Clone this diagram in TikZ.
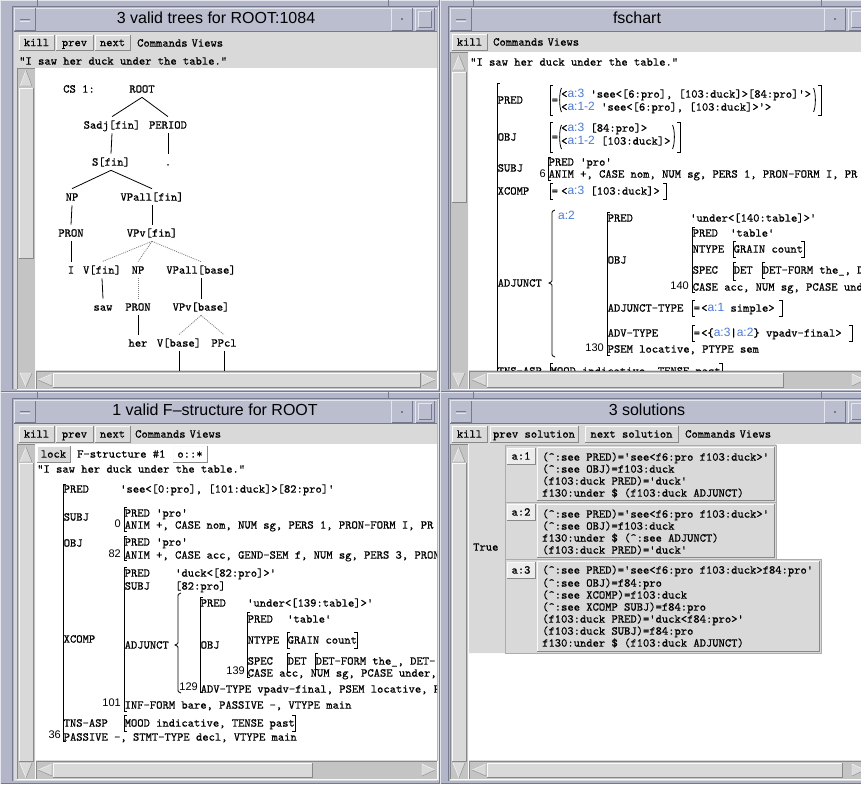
\documentclass[tikz,border=0pt]{standalone}
\usepackage{fontspec}
\newfontfamily\uisans{Liberation Sans}
\setmonofont{lmmono10-regular.otf}[FakeBold=0.6]

\definecolor{wmframe}{RGB}{178,182,200}
\definecolor{wmtitle}{RGB}{186,190,207}
\definecolor{wmlight}{RGB}{228,230,238}
\definecolor{wmdark}{RGB}{118,122,142}
\definecolor{tkbg}{RGB}{217,217,217}
\definecolor{tklabel}{RGB}{236,236,236}
\definecolor{tktrough}{RGB}{196,196,196}
\definecolor{tklight}{RGB}{250,250,250}
\definecolor{tkdark}{RGB}{136,136,136}
\definecolor{ctxblue}{RGB}{72,122,228}

\tikzset{
  mono/.style={anchor=west, inner sep=0pt, text height=7.3pt, text depth=0pt,
    font=\ttfamily\fontsize{12}{12}\selectfont},
  numlab/.style={anchor=east, inner sep=0pt, text height=7.6pt, text depth=0pt,
    font=\uisans\fontsize{11}{11}\selectfont},
  treelab/.style={mono, anchor=center, inner ysep=4.5pt},
  treeedge/.style={line width=0.8pt},
  choiceedge/.style={line width=0.8pt, gray, dash pattern=on 1pt off 1pt},
  brk/.style={line width=0.8pt},
  titletext/.style={inner sep=0pt, font=\uisans\fontsize{16}{16}\selectfont},
}

\newcounter{tn}
% text in the typewriter face, placed by its left end and cap centre
\newcommand\Txt[4][]{\stepcounter{tn}\node[mono,#1] (t\arabic{tn}) at (#2,#3) {#4};}
% f-structure index numbers, placed by their right end
\newcommand\Num[3]{\stepcounter{tn}\node[numlab] (t\arabic{tn}) at (#1,#2) {#3};}
% blue context labels
\newcommand\Ctx[1]{{\uisans\fontsize{12}{12}\selectfont\color{ctxblue}#1}}

% Tk widgets
\newcommand\TkRaised[5][tkbg]{%
  \fill[#1] (#2,#3) rectangle (#4,#5);
  \draw[tklight] (#2,#5) -- (#2,#3) -- (#4,#3);
  \draw[tkdark] (#2,#5) -- (#4,#5) -- (#4,#3);}
\newcommand\TkSunken[4]{%
  \fill[tktrough] (#1,#2) rectangle (#3,#4);
  \draw[tkdark] (#1,#4) -- (#1,#2) -- (#3,#2);
  \draw[tklight] (#1,#4) -- (#3,#4) -- (#3,#2);}
\newcommand\TkButton[5]{\TkRaised{#1}{#2}{#3}{#4}%
  \stepcounter{tn}\node[mono,anchor=center] (t\arabic{tn}) at ({(#1+#3)/2},{(#2+#4)/2}) {#5};}
\newcommand\ArrUp[3]{% centre x, top, bottom
  \fill[tkbg] (#1,#2) -- (#1+6,#3) -- (#1-6,#3) -- cycle;
  \draw[tklight] (#1-6,#3) -- (#1,#2);
  \draw[tkdark] (#1,#2) -- (#1+6,#3) -- (#1-6,#3);}
\newcommand\ArrDown[3]{% centre x, top, bottom
  \fill[tkbg] (#1-6,#2) -- (#1+6,#2) -- (#1,#3) -- cycle;
  \draw[tklight] (#1,#3) -- (#1-6,#2) -- (#1+6,#2);
  \draw[tkdark] (#1,#3) -- (#1+6,#2);}
\newcommand\ArrLeft[3]{% centre y, left, right
  \fill[tkbg] (#2,#1) -- (#3,#1-6) -- (#3,#1+6) -- cycle;
  \draw[tklight] (#2,#1) -- (#3,#1-6);
  \draw[tkdark] (#3,#1-6) -- (#3,#1+6) -- (#2,#1);}
\newcommand\ArrRight[3]{% centre y, left, right
  \fill[tkbg] (#2,#1-6) -- (#3,#1) -- (#2,#1+6) -- cycle;
  \draw[tklight] (#2,#1+6) -- (#2,#1-6) -- (#3,#1);
  \draw[tkdark] (#3,#1) -- (#2,#1+6);}

% window manager pieces
\newcommand\WmRaised[4]{%
  \fill[wmtitle] (#1,#2) rectangle (#3,#4);
  \draw[wmlight] (#1+0.5,#4-0.5) -- (#1+0.5,#2+0.5) -- (#3-0.5,#2+0.5);
  \draw[wmdark] (#1+0.5,#4-0.5) -- (#3-0.5,#4-0.5) -- (#3-0.5,#2+0.5);}
\newcommand\XWindow[9]{%
  % #1,#2 / #3,#4 outer corners, #5/#6 inner left/right, #7 title centre, #8 title, #9 dot button
  \fill[wmframe] (#1,#2) rectangle (#3,#4);
  \draw[wmlight] (#1+0.5,#4) -- (#1+0.5,#2+0.5) -- (#3,#2+0.5);
  \draw[wmdark] (#1+0.5,#4-0.5) -- (#3-0.5,#4-0.5) -- (#3-0.5,#2+0.5);
  \draw[wmdark] (#5-1.5,#4-3) -- (#5-1.5,#2+6.5) -- (#6+1.5,#2+6.5);
  \draw[wmlight] (#6+1.5,#2+6.5) -- (#6+1.5,#4-3);
  \draw[wmdark] (#5+23,#2) -- (#5+23,#2+6);
  \draw[wmdark] (#9-3,#2) -- (#9-3,#2+6);
  \fill[wmtitle] (#5,#2+8) rectangle (#6,#2+31);
  \draw[wmlight] (#5,#2+8.5) -- (#6,#2+8.5);
  \draw[wmdark] (#5,#2+31) -- (#6,#2+31);
  \WmRaised{#5}{#2+8}{#5+22}{#2+31}
  \draw[wmdark] (#5+6,#2+19.5) -- (#5+16,#2+19.5);
  \draw[wmlight] (#5+6,#2+21) -- (#5+16,#2+21);
  \WmRaised{#9}{#2+8}{#9+22}{#2+31}
  \fill[wmdark] (#9+10,#2+18.5) rectangle (#9+12,#2+20.5);
  \WmRaised{#9+24}{#2+8}{#9+44}{#2+31}
  \WmRaised{#9+27}{#2+11}{#9+41}{#2+28}
  \stepcounter{tn}\node[titletext] (t\arabic{tn}) at (#7,#2+18) {#8};
  \fill[tkbg] (#5,#2+32) rectangle (#6,#4-3);}

% brackets of attribute-value matrices
\newcommand\Lbr[3]{\draw[brk] (#1+3,#2) -- (#1,#2) -- (#1,#3) -- (#1+3,#3);}
\newcommand\Rbr[3]{\draw[brk] (#1-3,#2) -- (#1,#2) -- (#1,#3) -- (#1-3,#3);}
\newcommand\LParen[3]{\draw[brk] (#1+2.5,#2) .. controls (#1,#2+5) and (#1,#3-5) .. (#1+2.5,#3);}
\newcommand\RParen[3]{\draw[brk] (#1-2.5,#2) .. controls (#1,#2+5) and (#1,#3-5) .. (#1-2.5,#3);}
\newcommand\CurlyBr[4]{% x, top, middle, bottom
  \draw[brk] (#1+4,#2) .. controls (#1+1,#2+1) .. (#1+1,#2+5) -- (#1+1,#3-5)
    .. controls (#1+1,#3-1) .. (#1-2,#3) .. controls (#1+1,#3+1) .. (#1+1,#3+5)
    -- (#1+1,#4-5) .. controls (#1+1,#4-1) .. (#1+4,#4);}

\begin{document}
\begin{tikzpicture}[x=1pt,y=-1pt]
\useasboundingbox (0,0) rectangle (861,784);
\clip (0,0) rectangle (861,784);
\fill[wmframe] (0,0) rectangle (861,784);

% ================= tree window =================
\XWindow{0}{0}{440}{392}{14}{437}{216}{3 valid trees for ROOT:1084}{391}
\TkButton{19}{35}{54}{50}{kill}
\TkButton{56}{35}{93}{50}{prev}
\TkButton{95}{35}{130}{50}{next}
\Txt{137}{43}{Commands\hspace{4pt}Views}
\Txt{19}{61}{"I saw her duck under the table."}
\fill[white] (36,68) rectangle (437,370);
\TkSunken{17}{68}{35}{389}
\ArrUp{26}{70}{86}
\TkRaised{19}{88}{33}{258}
\ArrDown{26}{373}{387}
\TkSunken{36}{371}{437}{389}
\ArrLeft{380}{38}{52}
\TkRaised{53}{373}{420}{387}
\ArrRight{380}{422}{435}

\begin{scope}
\clip (36,68) rectangle (437,370);
\node[treelab] (cs) at (79,89) {CS 1:};
\node[treelab] (root) at (142,89) {ROOT};
\node[treelab] (sadj) at (112,125) {Sadj[fin]};
\node[treelab] (period) at (168,125) {PERIOD};
\node[treelab] (sfin) at (111,162) {S[fin]};
\node[treelab] (stop) at (168,162) {.};
\node[treelab] (np1) at (72,197) {NP};
\node[treelab] (vpallfin) at (152,197) {VPall[fin]};
\node[treelab] (pron1) at (71,233) {PRON};
\node[treelab] (vpvfin) at (152,233) {VPv[fin]};
\node[treelab] (wi) at (71,270) {I};
\node[treelab] (vfin) at (102,270) {V[fin]};
\node[treelab] (np2) at (138,270) {NP};
\node[treelab] (vpallbase) at (201,270) {VPall[base]};
\node[treelab] (saw) at (103,307) {saw};
\node[treelab] (pron2) at (138,307) {PRON};
\node[treelab] (vpvbase) at (201,307) {VPv[base]};
\node[treelab] (her) at (138,343) {her};
\node[treelab] (vbase) at (179,343) {V[base]};
\node[treelab] (ppcl) at (224,343) {PPcl};
\coordinate (vbasedown) at (179,375);
\coordinate (ppcldown) at (224,375);

\draw[treeedge] (root.south) -- (sadj.north);
\draw[treeedge] (root.south) -- (period.north);
\draw[treeedge] (sadj.south) -- (sfin.north);
\draw[treeedge] (period.south) -- (stop.north);
\draw[treeedge] (sfin.south) -- (np1.north);
\draw[treeedge] (sfin.south) -- (vpallfin.north);
\draw[treeedge] (np1.south) -- (pron1.north);
\draw[treeedge] (vpallfin.south) -- (vpvfin.north);
\draw[treeedge] (pron1.south) -- (wi.north);
\draw[choiceedge] (vpvfin.south) -- (vfin.north);
\draw[choiceedge] (vpvfin.south) -- (np2.north);
\draw[choiceedge] (vpvfin.south) -- (vpallbase.north);
\draw[treeedge] (vfin.south) -- (saw.north);
\draw[choiceedge] (np2.south) -- (pron2.north);
\draw[treeedge] (vpallbase.south) -- (vpvbase.north);
\draw[treeedge] (pron2.south) -- (her.north);
\draw[choiceedge] (vpvbase.south) -- (vbase.north);
\draw[choiceedge] (vpvbase.south) -- (ppcl.north);
\draw[treeedge] (vbase.south) -- (vbasedown);
\draw[treeedge] (ppcl.south) -- (ppcldown);
\end{scope}

% ================= fschart window =================
\XWindow{440}{0}{880}{392}{450}{880}{637}{fschart}{824}
\TkButton{452}{34}{487}{50}{kill}
\Txt{493}{42}{Commands\hspace{4pt}Views}
\fill[white] (469,52) rectangle (880,370);
\TkSunken{450}{52}{468}{389}
\ArrUp{459}{55}{70}
\TkRaised{452}{72}{466}{202}
\ArrDown{459}{373}{387}
\TkSunken{469}{371}{880}{389}
\ArrLeft{380}{472}{486}
\TkRaised{487}{373}{783}{387}
\ArrRight{380}{852}{865}

\begin{scope}
\clip (469,52) rectangle (880,370);
\Txt{470}{62}{"I saw her duck under the table."}
\draw[brk] (500,83) -- (497,83) -- (497,380);
% PRED
\Txt{497.5}{100}{PRED}
\Lbr{550}{85}{115}
\Txt{551.5}{100}{=}
\LParen{559}{88}{112}
\Txt{561}{94}{<\Ctx{a:3} 'see<[6:pro], [103:duck]>[84:pro]'>}
\Txt{561}{107}{<\Ctx{a:1-2} 'see<[6:pro], [103:duck]>'>}
\RParen{816}{88}{112}
\Rbr{821}{85}{115}
% OBJ
\Txt{497.5}{137}{OBJ}
\Lbr{550}{122}{152}
\Txt{551.5}{137}{=}
\LParen{559}{125}{149}
\Txt{561}{128}{<\Ctx{a:3} [84:pro]>}
\Txt{561}{141}{<\Ctx{a:1-2} [103:duck]>}
\RParen{675}{125}{149}
\Rbr{680}{122}{152}
% SUBJ
\Txt{497.5}{168}{SUBJ}
\Num{546}{174}{6}
\Lbr{548}{157}{180}
\Txt{548.5}{162}{PRED 'pro'}
\Txt{548.5}{174}{ANIM +, CASE nom, NUM sg, PERS 1, PRON-FORM I, PR}
% XCOMP
\Txt{497.5}{191}{XCOMP}
\Lbr{550}{183}{199}
\Txt{551.5}{191}{=}
\Txt{561}{191}{<\Ctx{a:3} [103:duck]>}
\Rbr{666}{183}{199}
% ADJUNCT
\Txt{497.5}{283}{ADJUNCT}
\CurlyBr{551}{210}{283}{357}
\stepcounter{tn}\node[mono,font=\uisans\fontsize{12}{12}\selectfont,text=ctxblue] (t\arabic{tn}) at (558,216) {a:2};
\Lbr{607}{212}{355}
\Txt{607.5}{218}{PRED}
\Txt{690}{218}{'under<[140:table]>'}
\Lbr{692}{227}{292}
\Txt{692.5}{233}{PRED}
\Txt{730}{233}{'table'}
\Txt{692.5}{249}{NTYPE}
\Lbr{733}{241}{257}
\Txt{733.5}{249}{GRAIN count}
\Rbr{804}{241}{257}
\Txt{607.5}{260}{OBJ}
\Txt{692.5}{270}{SPEC}
\Lbr{733}{262}{280}
\Txt{733.5}{270}{DET}
\Lbr{762}{262}{278}
\Txt{762.5}{270}{DET-FORM the\_, D}
\Num{689}{286}{140}
\Txt{692.5}{287}{CASE acc, NUM sg, PCASE und}
\Txt{607.5}{308}{ADJUNCT-TYPE}
\Lbr{692}{300}{316}
\Txt{693.5}{308}{=}
\Txt{701}{308}{<\Ctx{a:1} simple>}
\Rbr{782}{300}{316}
\Txt{607.5}{333}{ADV-TYPE}
\Lbr{692}{325}{341}
\Txt{693.5}{333}{=}
\Txt{701}{333}{<\{\Ctx{a:3}|\Ctx{a:2}\} vpadv-final>}
\Rbr{852}{325}{341}
\Num{604}{348}{130}
\Txt{607.5}{349}{PSEM locative, PTYPE sem}
\Txt{497.5}{371}{TNS-ASP}
\Lbr{550}{363}{379}
\Txt{550.5}{371}{MOOD indicative, TENSE past}
\Rbr{722}{363}{379}
\end{scope}

% ================= f-structure window =================
\XWindow{0}{392}{440}{784}{14}{437}{215}{1 valid F\textendash structure for ROOT}{391}
\TkButton{19}{426}{54}{442}{kill}
\TkButton{56}{426}{93}{442}{prev}
\TkButton{95}{426}{130}{442}{next}
\Txt{135}{434}{Commands\hspace{4pt}Views}
\fill[white] (36,444) rectangle (437,760);
\TkSunken{17}{444}{35}{779}
\ArrUp{26}{447}{462}
\TkRaised{19}{463}{33}{761}
\ArrDown{26}{763}{778}
\TkSunken{36}{761}{437}{779}
\ArrLeft{770}{38}{52}
\TkRaised{53}{763}{312}{777}
\ArrRight{770}{422}{435}

\begin{scope}
\clip (36,444) rectangle (437,760);
\TkButton{37}{446}{70}{462}{lock}
\Txt{77}{454}{F-structure \#1}
\TkRaised[white]{173}{446}{207}{462}
\Txt[anchor=center]{190}{454}{o::*}
\Txt{37}{469}{"I saw her duck under the table."}
\Lbr{63}{484}{741}
\Txt{63.5}{489}{PRED}
\Txt{120}{489}{'see<[0:pro], [101:duck]>[82:pro]'}
\Txt{63.5}{517}{SUBJ}
\Lbr{124}{507}{531}
\Txt{124.5}{513}{PRED 'pro'}
\Num{121}{524}{0}
\Txt{124.5}{525}{ANIM +, CASE nom, NUM sg, PERS 1, PRON-FORM I, PR}
\Txt{63.5}{543}{OBJ}
\Lbr{124}{536}{560}
\Txt{124.5}{542}{PRED 'pro'}
\Num{121}{554}{82}
\Txt{124.5}{555}{ANIM +, CASE acc, GEND-SEM f, NUM sg, PERS 3, PRON}
\Lbr{124}{567}{711}
\Txt{124.5}{573}{PRED}
\Txt{175}{573}{'duck<[82:pro]>'}
\Txt{124.5}{586}{SUBJ}
\Txt{175}{586}{[82:pro]}
\Txt{63.5}{639}{XCOMP}
\Txt{124.5}{645}{ADJUNCT}
\CurlyBr{177}{593}{645}{693}
\Lbr{200}{597}{692}
\Txt{200.5}{603}{PRED}
\Txt{247}{603}{'under<[139:table]>'}
\Lbr{247}{612}{677}
\Txt{247.5}{619}{PRED}
\Txt{287}{619}{'table'}
\Txt{247.5}{640}{NTYPE}
\Lbr{287}{632}{648}
\Txt{287.5}{640}{GRAIN count}
\Rbr{357}{632}{648}
\Txt{200.5}{645}{OBJ}
\Txt{247.5}{661}{SPEC}
\Lbr{287}{653}{672}
\Txt{287.5}{661}{DET}
\Lbr{315}{653}{669}
\Txt{315.5}{661}{DET-FORM the\_, DET-}
\Num{245}{671}{139}
\Txt{247.5}{673}{CASE acc, NUM sg, PCASE under, P}
\Num{198}{687}{129}
\Txt{200.5}{689}{ADV-TYPE vpadv-final, PSEM locative, P}
\Num{121}{703}{101}
\Txt{124.5}{705}{INF-FORM bare, PASSIVE -, VTYPE main}
\Txt{63.5}{723}{TNS-ASP}
\Lbr{124}{715}{731}
\Txt{124.5}{723}{MOOD indicative, TENSE past}
\Rbr{295}{715}{731}
\Num{61}{735}{36}
\Txt{63.5}{737}{PASSIVE -, STMT-TYPE decl, VTYPE main}
\end{scope}

% ================= solutions window =================
\XWindow{440}{392}{880}{784}{450}{880}{647}{3 solutions}{824}
\TkButton{452}{426}{487}{442}{kill}
\TkButton{490}{426}{578}{442}{prev solution}
\TkButton{585}{426}{678}{442}{next solution}
\Txt{685}{434}{Commands\hspace{4pt}Views}
\fill[white] (469,444) rectangle (880,760);
\TkSunken{450}{444}{468}{779}
\ArrUp{459}{447}{462}
\TkRaised{452}{463}{466}{761}
\ArrDown{459}{763}{778}
\TkSunken{469}{761}{880}{779}
\ArrLeft{770}{472}{486}
\TkRaised{487}{763}{842}{777}
\ArrRight{770}{852}{865}

\fill[tkbg] (469,444) -- (776,444) -- (776,559) -- (821,559) -- (821,653) -- (469,653) -- cycle;
\draw[tkdark!70] (505,445) rectangle (776,502);
\draw[tkdark!70] (505,502) rectangle (776,559);
\draw[tkdark!70] (505,559) rectangle (821,653);
\Txt{473}{547}{True}

\TkRaised[tklabel]{507}{448}{535}{464}
\Txt[anchor=center]{521}{456}{a:1}
\TkRaised{537}{447}{774}{500}
\Txt{542}{457}{(\textasciicircum:see PRED)='see<f6:pro f103:duck>'}
\Txt{542}{469}{(\textasciicircum:see OBJ)=f103:duck}
\Txt{542}{481}{(f103:duck PRED)='duck'}
\Txt{542}{493}{f130:under \$ (f103:duck ADJUNCT)}

\TkRaised[tklabel]{507}{504}{535}{520}
\Txt[anchor=center]{521}{512}{a:2}
\TkRaised{537}{504}{774}{557}
\Txt{542}{514}{(\textasciicircum:see PRED)='see<f6:pro f103:duck>'}
\Txt{542}{526}{(\textasciicircum:see OBJ)=f103:duck}
\Txt{542}{538}{f130:under \$ (\textasciicircum:see ADJUNCT)}
\Txt{542}{550}{(f103:duck PRED)='duck'}

\TkRaised[tklabel]{507}{562}{535}{578}
\Txt[anchor=center]{521}{570}{a:3}
\TkRaised{537}{561}{819}{651}
\Txt{542}{570}{(\textasciicircum:see PRED)='see<f6:pro f103:duck>f84:pro'}
\Txt{542}{583}{(\textasciicircum:see OBJ)=f84:pro}
\Txt{542}{595}{(\textasciicircum:see XCOMP)=f103:duck}
\Txt{542}{607}{(\textasciicircum:see XCOMP SUBJ)=f84:pro}
\Txt{542}{619}{(f103:duck PRED)='duck<f84:pro>'}
\Txt{542}{631}{(f103:duck SUBJ)=f84:pro}
\Txt{542}{643}{f130:under \$ (f103:duck ADJUNCT)}

\end{tikzpicture}
\end{document}
